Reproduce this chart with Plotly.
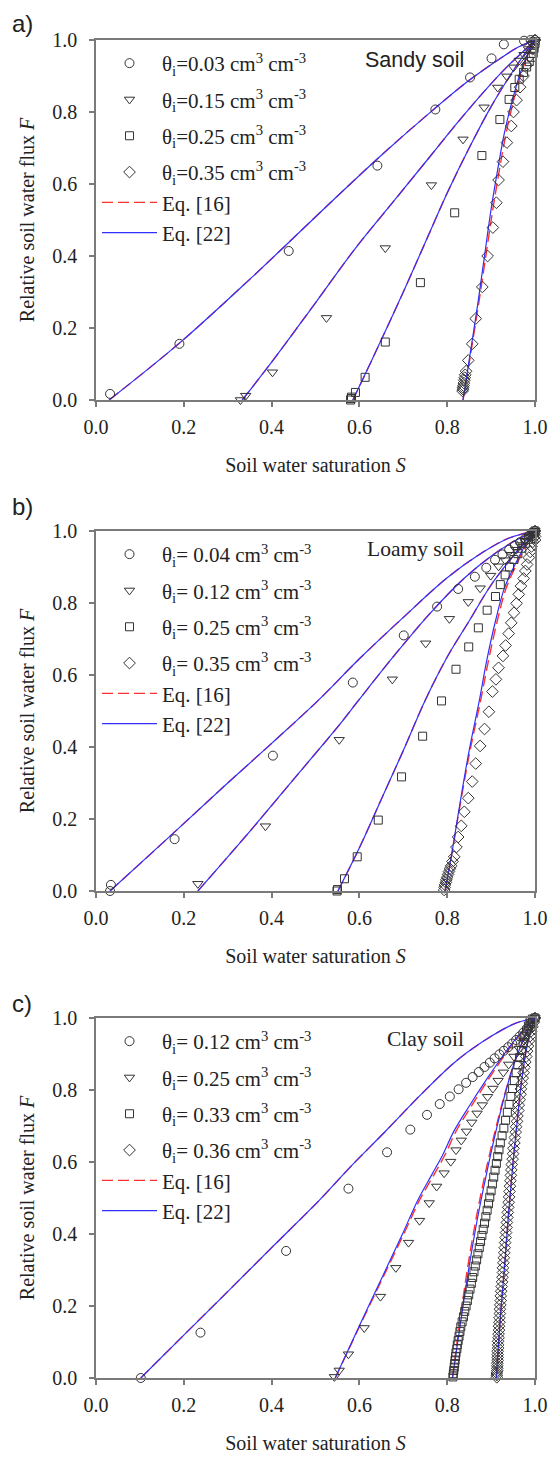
import plotly.graph_objects as go

# ---------------- Panel a) Sandy soil ----------------
a_circ_S = [0.032, 0.19, 0.439, 0.641, 0.773, 0.852, 0.901, 0.929, 0.975, 0.99, 1.0]
a_circ_F = [0.017, 0.156, 0.414, 0.651, 0.807, 0.896, 0.949, 0.988, 0.998, 1.0, 1.0]
a_tri_S = [0.329, 0.341, 0.402, 0.525, 0.659, 0.764, 0.836, 0.884, 0.915, 0.936, 0.951, 0.964, 0.975, 0.985, 0.993, 1.0]
a_tri_F = [0.0, 0.012, 0.077, 0.228, 0.422, 0.597, 0.724, 0.813, 0.868, 0.899, 0.924, 0.943, 0.959, 0.975, 0.989, 1.0]
a_sq_S = [0.58, 0.581, 0.582, 0.591, 0.613, 0.659, 0.739, 0.817, 0.879, 0.92, 0.941, 0.954, 0.964, 0.974, 0.981, 0.987, 0.992, 0.996, 0.998, 1.0]
a_sq_F = [0.0, 0.004, 0.008, 0.021, 0.063, 0.161, 0.326, 0.52, 0.679, 0.779, 0.835, 0.868, 0.891, 0.91, 0.925, 0.94, 0.952, 0.963, 0.977, 0.99]
a_dia_S = [0.835, 0.836, 0.836, 0.837, 0.838, 0.839, 0.84, 0.841, 0.843, 0.848, 0.857, 0.865, 0.88, 0.892, 0.904, 0.912, 0.917, 0.927, 0.936, 0.946, 0.951, 0.958, 0.966, 0.974, 0.981, 0.988, 0.994, 0.998, 1.0]
a_dia_F = [0.025, 0.03, 0.035, 0.04, 0.047, 0.055, 0.062, 0.07, 0.08, 0.11, 0.156, 0.226, 0.314, 0.40, 0.479, 0.548, 0.611, 0.662, 0.715, 0.761, 0.80, 0.833, 0.869, 0.9, 0.93, 0.955, 0.975, 0.99, 1.0]

a_eq22_1_S = [0.03, 0.19, 0.35, 0.54, 0.65, 0.77, 0.85, 0.92, 0.96, 1.0]
a_eq22_1_F = [0.0, 0.158, 0.335, 0.555, 0.68, 0.808, 0.888, 0.948, 0.979, 1.0]
a_eq22_2_S = [0.333, 0.40, 0.50, 0.59, 0.68, 0.76, 0.83, 0.89, 0.94, 0.975, 1.0]
a_eq22_2_F = [0.0, 0.105, 0.27, 0.42, 0.555, 0.675, 0.78, 0.865, 0.93, 0.97, 1.0]
a_eq22_3_S = [0.585, 0.63, 0.70, 0.76, 0.80, 0.85, 0.90, 0.94, 0.97, 1.0]
a_eq22_3_F = [0.0, 0.115, 0.30, 0.465, 0.575, 0.70, 0.815, 0.895, 0.95, 1.0]
a_eq22_4_S = [0.836, 0.85, 0.87, 0.885, 0.90, 0.915, 0.93, 0.95, 0.97, 0.985, 1.0]
a_eq22_4_F = [0.0, 0.11, 0.27, 0.40, 0.53, 0.64, 0.74, 0.84, 0.92, 0.965, 1.0]
a_eq16_4_S = [0.836, 0.851, 0.872, 0.888, 0.904, 0.919, 0.934, 0.953, 0.972, 0.986, 1.0]
a_eq16_4_F = [0.0, 0.11, 0.27, 0.40, 0.53, 0.64, 0.74, 0.84, 0.92, 0.965, 1.0]

# ---------------- Panel b) Loamy soil ----------------
b_circ_S = [0.032, 0.034, 0.179, 0.403, 0.585, 0.701, 0.777, 0.825, 0.863, 0.889, 0.909, 0.926, 0.941, 0.954, 0.966, 0.977, 0.987, 0.995, 1.0]
b_circ_F = [0.0, 0.017, 0.144, 0.376, 0.579, 0.71, 0.79, 0.839, 0.873, 0.898, 0.92, 0.935, 0.948, 0.96, 0.969, 0.978, 0.987, 0.995, 1.0]
b_tri_S = [0.232, 0.386, 0.554, 0.675, 0.751, 0.805, 0.848, 0.875, 0.899, 0.917, 0.932, 0.945, 0.957, 0.968, 0.978, 0.987, 0.995, 1.0]
b_tri_F = [0.02, 0.18, 0.42, 0.588, 0.688, 0.756, 0.803, 0.841, 0.876, 0.902, 0.919, 0.934, 0.948, 0.961, 0.973, 0.985, 0.994, 1.0]
b_sq_S = [0.549, 0.55, 0.566, 0.595, 0.643, 0.696, 0.744, 0.787, 0.82, 0.849, 0.871, 0.891, 0.91, 0.921, 0.932, 0.942, 0.952, 0.961, 0.97, 0.978, 0.985, 0.991, 0.997, 1.0]
b_sq_F = [0.0, 0.004, 0.034, 0.095, 0.197, 0.317, 0.43, 0.528, 0.616, 0.678, 0.731, 0.78, 0.818, 0.851, 0.878, 0.9, 0.921, 0.937, 0.952, 0.966, 0.977, 0.986, 0.996, 1.0]
b_dia_S = [0.793, 0.794, 0.795, 0.797, 0.798, 0.8, 0.802, 0.804, 0.806, 0.809, 0.812, 0.816, 0.821, 0.825, 0.832, 0.839, 0.848, 0.857, 0.865, 0.875, 0.885, 0.895, 0.903, 0.911, 0.917, 0.927, 0.933, 0.94, 0.946, 0.952, 0.958, 0.963, 0.968, 0.974, 0.978, 0.982, 0.986, 0.989, 0.992, 0.995, 0.997, 0.999, 1.0, 1.0, 1.0]
b_dia_F = [0.003, 0.01, 0.017, 0.024, 0.031, 0.038, 0.046, 0.054, 0.062, 0.07, 0.082, 0.095, 0.122, 0.15, 0.181, 0.22, 0.258, 0.304, 0.354, 0.403, 0.45, 0.498, 0.554, 0.588, 0.62, 0.653, 0.682, 0.715, 0.745, 0.773, 0.799, 0.824, 0.847, 0.868, 0.889, 0.907, 0.926, 0.942, 0.957, 0.97, 0.982, 0.992, 1.0, 0.975, 0.985]

b_eq22_1_S = [0.032, 0.18, 0.30, 0.40, 0.505, 0.60, 0.70, 0.80, 0.88, 0.94, 1.0]
b_eq22_1_F = [0.0, 0.165, 0.30, 0.41, 0.528, 0.645, 0.76, 0.87, 0.94, 0.98, 1.0]
b_eq22_2_S = [0.232, 0.35, 0.45, 0.55, 0.597, 0.68, 0.76, 0.84, 0.90, 0.95, 1.0]
b_eq22_2_F = [0.0, 0.165, 0.31, 0.455, 0.528, 0.655, 0.77, 0.87, 0.93, 0.97, 1.0]
b_eq22_3_S = [0.551, 0.60, 0.65, 0.70, 0.75, 0.80, 0.85, 0.90, 0.95, 0.98, 1.0]
b_eq22_3_F = [0.0, 0.12, 0.255, 0.39, 0.53, 0.65, 0.75, 0.85, 0.93, 0.975, 1.0]
b_eq22_4_S = [0.795, 0.81, 0.83, 0.85, 0.873, 0.89, 0.91, 0.93, 0.96, 0.985, 1.0]
b_eq22_4_F = [0.0, 0.10, 0.25, 0.39, 0.528, 0.64, 0.75, 0.84, 0.92, 0.975, 1.0]
b_eq16_4_S = [0.795, 0.81, 0.831, 0.852, 0.876, 0.894, 0.914, 0.934, 0.963, 0.986, 1.0]
b_eq16_4_F = [0.0, 0.10, 0.25, 0.39, 0.528, 0.64, 0.75, 0.84, 0.92, 0.975, 1.0]

# ---------------- Panel c) Clay soil ----------------
c_circ_S = [0.102, 0.238, 0.433, 0.575, 0.663, 0.716, 0.754, 0.783, 0.806, 0.826, 0.843, 0.858, 0.872, 0.885, 0.897, 0.908, 0.919, 0.929, 0.939, 0.948, 0.957, 0.965, 0.973, 0.981, 0.988, 0.994, 1.0]
c_circ_F = [0.0, 0.126, 0.353, 0.526, 0.627, 0.69, 0.731, 0.761, 0.782, 0.802, 0.82, 0.836, 0.85, 0.864, 0.876, 0.888, 0.899, 0.909, 0.919, 0.929, 0.939, 0.949, 0.959, 0.97, 0.98, 0.99, 1.0]
c_tri_S = [0.543, 0.554, 0.575, 0.611, 0.648, 0.683, 0.712, 0.737, 0.759, 0.776, 0.793, 0.808, 0.82, 0.832, 0.844, 0.856, 0.868, 0.88, 0.892, 0.904, 0.916, 0.928, 0.94, 0.952, 0.964, 0.975, 0.985, 0.993, 1.0]
c_tri_F = [0.003, 0.021, 0.066, 0.139, 0.226, 0.306, 0.376, 0.437, 0.486, 0.532, 0.569, 0.601, 0.633, 0.66, 0.685, 0.71, 0.735, 0.758, 0.781, 0.804, 0.826, 0.849, 0.871, 0.893, 0.915, 0.937, 0.96, 0.98, 1.0]
c_sq_S = [0.813, 0.814, 0.815, 0.816, 0.817, 0.818, 0.819, 0.82, 0.822, 0.823, 0.825, 0.827, 0.829, 0.831, 0.834, 0.837, 0.84, 0.843, 0.846, 0.849, 0.852, 0.855, 0.858, 0.861, 0.864, 0.867, 0.87, 0.873, 0.876, 0.879, 0.882, 0.885, 0.888, 0.891, 0.894, 0.897, 0.9, 0.903, 0.906, 0.909, 0.912, 0.915, 0.918, 0.921, 0.925, 0.929, 0.933, 0.937, 0.941, 0.945, 0.949, 0.953, 0.957, 0.961, 0.965, 0.969, 0.973, 0.977, 0.981, 0.985, 0.989, 0.994, 1.0]
c_sq_F = [0.003, 0.012, 0.021, 0.03, 0.04, 0.05, 0.06, 0.07, 0.081, 0.092, 0.104, 0.116, 0.129, 0.142, 0.156, 0.17, 0.185, 0.2, 0.215, 0.231, 0.247, 0.263, 0.279, 0.295, 0.311, 0.328, 0.345, 0.362, 0.379, 0.396, 0.413, 0.43, 0.448, 0.466, 0.484, 0.502, 0.52, 0.539, 0.558, 0.577, 0.596, 0.615, 0.634, 0.653, 0.673, 0.694, 0.716, 0.738, 0.76, 0.782, 0.804, 0.826, 0.848, 0.87, 0.89, 0.91, 0.93, 0.948, 0.964, 0.978, 0.99, 0.997, 1.0]
c_dia_S = [0.913, 0.913, 0.913, 0.914, 0.914, 0.914, 0.914, 0.915, 0.915, 0.915, 0.915, 0.916, 0.916, 0.916, 0.917, 0.917, 0.918, 0.918, 0.919, 0.919, 0.92, 0.92, 0.921, 0.922, 0.922, 0.923, 0.924, 0.925, 0.926, 0.927, 0.927, 0.928, 0.929, 0.93, 0.931, 0.932, 0.933, 0.934, 0.935, 0.936, 0.937, 0.938, 0.939, 0.94, 0.941, 0.942, 0.943, 0.944, 0.945, 0.946, 0.947, 0.949, 0.95, 0.951, 0.953, 0.954, 0.956, 0.957, 0.959, 0.96, 0.962, 0.963, 0.965, 0.967, 0.968, 0.97, 0.972, 0.974, 0.976, 0.978, 0.98, 0.982, 0.984, 0.986, 0.989, 0.991, 0.994, 0.997, 1.0]
c_dia_F = [0.002, 0.008, 0.014, 0.02, 0.027, 0.034, 0.041, 0.049, 0.057, 0.065, 0.074, 0.083, 0.092, 0.102, 0.112, 0.122, 0.133, 0.144, 0.155, 0.167, 0.179, 0.191, 0.203, 0.215, 0.228, 0.241, 0.254, 0.267, 0.28, 0.293, 0.306, 0.32, 0.334, 0.348, 0.362, 0.376, 0.39, 0.404, 0.418, 0.432, 0.446, 0.46, 0.474, 0.488, 0.503, 0.518, 0.533, 0.548, 0.563, 0.578, 0.593, 0.608, 0.623, 0.638, 0.653, 0.668, 0.683, 0.698, 0.713, 0.728, 0.743, 0.758, 0.773, 0.788, 0.803, 0.818, 0.833, 0.848, 0.863, 0.878, 0.893, 0.908, 0.922, 0.936, 0.95, 0.963, 0.976, 0.988, 1.0]

c_eq22_1_S = [0.102, 0.2, 0.3, 0.4, 0.509, 0.58, 0.66, 0.74, 0.82, 0.9, 0.955, 1.0]
c_eq22_1_F = [0.0, 0.119, 0.24, 0.362, 0.494, 0.587, 0.686, 0.787, 0.88, 0.949, 0.985, 1.0]
c_eq22_2_S = [0.545, 0.6, 0.65, 0.7, 0.733, 0.765, 0.79, 0.815, 0.85, 0.89, 0.93, 0.965, 1.0]
c_eq22_2_F = [0.0, 0.145, 0.275, 0.405, 0.494, 0.565, 0.62, 0.685, 0.755, 0.83, 0.9, 0.955, 1.0]
c_eq16_2_S = [0.545, 0.601, 0.652, 0.703, 0.737, 0.77, 0.795, 0.82, 0.855, 0.894, 0.933, 0.967, 1.0]
c_eq16_2_F = [0.0, 0.145, 0.275, 0.405, 0.494, 0.565, 0.62, 0.685, 0.755, 0.83, 0.9, 0.955, 1.0]
c_eq22_3_S = [0.812, 0.83, 0.85, 0.87, 0.89, 0.91, 0.93, 0.95, 0.97, 0.985, 1.0]
c_eq22_3_F = [0.0, 0.15, 0.31, 0.45, 0.57, 0.68, 0.78, 0.865, 0.93, 0.97, 1.0]
c_eq16_3_S = [0.812, 0.828, 0.847, 0.867, 0.887, 0.908, 0.929, 0.95, 0.97, 0.985, 1.0]
c_eq16_3_F = [0.0, 0.15, 0.31, 0.45, 0.57, 0.68, 0.78, 0.865, 0.93, 0.97, 1.0]
c_eq22_4_S = [0.912, 0.92, 0.93, 0.94, 0.95, 0.96, 0.97, 0.98, 0.99, 1.0]
c_eq22_4_F = [0.0, 0.15, 0.3, 0.46, 0.6, 0.72, 0.83, 0.91, 0.965, 1.0]

tick_vals = [0.0, 0.2, 0.4, 0.6, 0.8, 1.0]
tick_text = ["0.0", "0.2", "0.4", "0.6", "0.8", "1.0"]

a_labels = ["θ<sub>i</sub>=0.03 cm<sup>3</sup> cm<sup>-3</sup>", "θ<sub>i</sub>=0.15 cm<sup>3</sup> cm<sup>-3</sup>",
            "θ<sub>i</sub>=0.25 cm<sup>3</sup> cm<sup>-3</sup>", "θ<sub>i</sub>=0.35 cm<sup>3</sup> cm<sup>-3</sup>"]
b_labels = ["θ<sub>i</sub>= 0.04 cm<sup>3</sup> cm<sup>-3</sup>", "θ<sub>i</sub>= 0.12 cm<sup>3</sup> cm<sup>-3</sup>",
            "θ<sub>i</sub>= 0.25 cm<sup>3</sup> cm<sup>-3</sup>", "θ<sub>i</sub>= 0.35 cm<sup>3</sup> cm<sup>-3</sup>"]
c_labels = ["θ<sub>i</sub>= 0.12 cm<sup>3</sup> cm<sup>-3</sup>", "θ<sub>i</sub>= 0.25 cm<sup>3</sup> cm<sup>-3</sup>",
            "θ<sub>i</sub>= 0.33 cm<sup>3</sup> cm<sup>-3</sup>", "θ<sub>i</sub>= 0.36 cm<sup>3</sup> cm<sup>-3</sup>"]
eq_labels = ["Eq. [16]", "Eq. [22]"]

SERIF = "Liberation Serif, Times New Roman, serif"
SANS = "Liberation Sans, Arial, sans-serif"
BLUE = "#3030ff"
RED = "#ff3030"
MK = "#333333"
symbols = ["circle-open", "triangle-down-open", "square-open", "diamond-open"]
msizes = [9, 9, 8, 9]

W, H = 550, 1459
XL, XR = 96, 535
panels = [  # (top px, bottom px)
    (40, 400),
    (531, 891),
    (1018, 1378),
]

fig = go.Figure()

def add_panel(idx, markers, eq16, eq22, labels):
    xa = "x" if idx == 0 else f"x{idx+1}"
    ya = "y" if idx == 0 else f"y{idx+1}"
    lg = "legend" if idx == 0 else f"legend{idx+1}"
    grp_last = f"p{idx}g4"
    for k, (sx, fy) in enumerate(eq16):
        fig.add_trace(go.Scatter(x=sx, y=fy, mode="lines", line=dict(color=RED, width=1.4, dash="11px,5px", shape="spline"),
                                 name=eq_labels[0], showlegend=(k == 0), legend=lg, legendrank=5,
                                 legendgroup=grp_last, xaxis=xa, yaxis=ya))
    for k, (sx, fy) in enumerate(eq22):
        fig.add_trace(go.Scatter(x=sx, y=fy, mode="lines", line=dict(color=BLUE, width=1.2, shape="spline"),
                                 name=eq_labels[1], showlegend=(k == 0), legend=lg, legendrank=6,
                                 legendgroup=grp_last, xaxis=xa, yaxis=ya))
    for k, (sx, fy) in enumerate(markers):
        fig.add_trace(go.Scatter(x=sx, y=fy, mode="markers",
                                 marker=dict(symbol=symbols[k], size=msizes[k], color=MK, line=dict(width=1, color=MK)),
                                 name=labels[k], legend=lg, legendrank=k + 1, cliponaxis=False,
                                 legendgroup=(grp_last if k == 3 else f"p{idx}g{k+1}"),
                                 xaxis=xa, yaxis=ya))

add_panel(0,
          [(a_circ_S, a_circ_F), (a_tri_S, a_tri_F), (a_sq_S, a_sq_F), (a_dia_S, a_dia_F)],
          [(a_eq22_1_S, a_eq22_1_F), (a_eq22_2_S, a_eq22_2_F), (a_eq22_3_S, a_eq22_3_F), (a_eq16_4_S, a_eq16_4_F)],
          [(a_eq22_1_S, a_eq22_1_F), (a_eq22_2_S, a_eq22_2_F), (a_eq22_3_S, a_eq22_3_F), (a_eq22_4_S, a_eq22_4_F)],
          a_labels)
add_panel(1,
          [(b_circ_S, b_circ_F), (b_tri_S, b_tri_F), (b_sq_S, b_sq_F), (b_dia_S, b_dia_F)],
          [(b_eq22_1_S, b_eq22_1_F), (b_eq22_2_S, b_eq22_2_F), (b_eq22_3_S, b_eq22_3_F), (b_eq16_4_S, b_eq16_4_F)],
          [(b_eq22_1_S, b_eq22_1_F), (b_eq22_2_S, b_eq22_2_F), (b_eq22_3_S, b_eq22_3_F), (b_eq22_4_S, b_eq22_4_F)],
          b_labels)
add_panel(2,
          [(c_circ_S, c_circ_F), (c_tri_S, c_tri_F), (c_sq_S, c_sq_F), (c_dia_S, c_dia_F)],
          [(c_eq22_1_S, c_eq22_1_F), (c_eq16_2_S, c_eq16_2_F), (c_eq16_3_S, c_eq16_3_F), (c_eq22_4_S, c_eq22_4_F)],
          [(c_eq22_1_S, c_eq22_1_F), (c_eq22_2_S, c_eq22_2_F), (c_eq22_3_S, c_eq22_3_F), (c_eq22_4_S, c_eq22_4_F)],
          c_labels)

axis_common = dict(range=[0, 1], showgrid=False, zeroline=False, showline=True, mirror=True,
                   linecolor="#7a7a7a", linewidth=1.5, ticks="outside", ticklen=5, tickwidth=1.5,
                   tickcolor="#7a7a7a", tickvals=tick_vals, ticktext=tick_text, automargin=False,
                   tickfont=dict(family=SERIF, size=20, color="#222"))

layout = dict(width=W, height=H, margin=dict(l=0, r=0, t=0, b=0, autoexpand=False),
              paper_bgcolor="white", plot_bgcolor="white", showlegend=True)
panel_text = ["a)", "b)", "c)"]
soil_text = ["Sandy soil", "Loamy soil", "Clay soil"]
soil_font = [(SANS, 21.5), (SERIF, 21.5), (SERIF, 21.5)]
soil_y = [0.944, 0.95, 0.942]
label_y = [23, 507, 1003]
annotations = []
for i, (top, bot) in enumerate(panels):
    sfx = "" if i == 0 else str(i + 1)
    ydom = [(H - bot) / H, (H - top) / H]
    layout[f"xaxis{sfx}"] = dict(axis_common, domain=[XL / W, XR / W], anchor=f"y{sfx}",
                                 ticklabelstandoff=3,
                                 title=dict(text="Soil water saturation <i>S</i>", standoff=21,
                                            font=dict(family=SERIF, size=20, color="#222")))
    layout[f"yaxis{sfx}"] = dict(axis_common, domain=ydom, anchor=f"x{sfx}",
                                 ticklabelstandoff=8,
                                 title=dict(text="Relative soil water flux <i>F</i>", standoff=12,
                                            font=dict(family=SERIF, size=20, color="#222")))
    lg = "legend" if i == 0 else f"legend{i+1}"
    layout[lg] = dict(x=97 / W, y=(H - (top + 3)) / H, xanchor="left", yanchor="top",
                      bgcolor="rgba(0,0,0,0)", itemwidth=55, tracegroupgap=6,
                      font=dict(family=SERIF, size=21, color="#222"))
    annotations.append(dict(text=panel_text[i], x=10 / W, y=(H - label_y[i]) / H, xref="paper", yref="paper",
                            xanchor="left", yanchor="middle", showarrow=False,
                            font=dict(family=SANS, size=24, color="#222")))
    annotations.append(dict(text=soil_text[i], x=0.843, y=soil_y[i], xref=f"x{sfx}", yref=f"y{sfx}",
                            xanchor="right", yanchor="middle", showarrow=False,
                            font=dict(family=soil_font[i][0], size=soil_font[i][1], color="#222")))
layout["annotations"] = annotations
fig.update_layout(**layout)

fig.write_html("out.html", config={"displayModeBar": False},
               post_script="document.body.style.margin='0';document.body.style.overflow='hidden';")
